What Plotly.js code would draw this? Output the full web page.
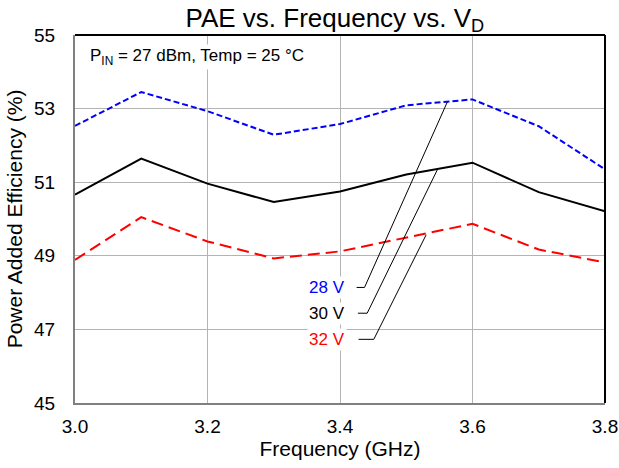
<!DOCTYPE html>
<html><head><meta charset="utf-8">
<script src="https://cdn.plot.ly/plotly-3.0.1.min.js"></script>
<style>html,body{margin:0;padding:0;background:#fff;}#chart{width:619px;height:468px;}</style>
</head><body><div id="chart"></div>
<script>
const freq = [3.0, 3.1, 3.2, 3.3, 3.4, 3.5, 3.6, 3.7, 3.8];
const pae28 = [52.53, 53.45, 52.93, 52.29, 52.58, 53.09, 53.25, 52.52, 51.35];
const pae30 = [50.66, 51.64, 50.96, 50.46, 50.75, 51.21, 51.53, 50.73, 50.21];
const pae32 = [48.89, 50.05, 49.39, 48.93, 49.12, 49.50, 49.87, 49.17, 48.82];
const seriesNames = ['28 V', '30 V', '32 V'];
const seriesColors = ['#0000ff', '#000000', '#ff0000'];
// leader lines: label end -> curve
const lead28x = [3.425, 3.437, 3.562], lead28y = [48.14, 48.14, 53.18];
const lead30x = [3.427, 3.441, 3.547], lead30y = [47.44, 47.44, 51.34];
const lead32x = [3.428, 3.451, 3.530], lead32y = [46.73, 46.73, 49.57];
const labelX = 3.41;
const labelY = [48.14, 47.44, 46.73];
const yTicks = [45, 47, 49, 51, 53, 55];
const xTicks = [3.0, 3.2, 3.4, 3.6, 3.8];
const xTickText = ['3.0', '3.2', '3.4', '3.6', '3.8'];

const FONT = 'Arial, "Liberation Sans", sans-serif';
const traces = [
  {x: freq, y: pae28, mode: 'lines', name: seriesNames[0], line: {color: seriesColors[0], width: 2, dash: '6px,3px'}},
  {x: freq, y: pae30, mode: 'lines', name: seriesNames[1], line: {color: seriesColors[1], width: 2}},
  {x: freq, y: pae32, mode: 'lines', name: seriesNames[2], line: {color: seriesColors[2], width: 2, dash: '12px,6px'}},
  {x: lead28x, y: lead28y, mode: 'lines', line: {color: '#000', width: 1}, hoverinfo: 'skip'},
  {x: lead30x, y: lead30y, mode: 'lines', line: {color: '#000', width: 1}, hoverinfo: 'skip'},
  {x: lead32x, y: lead32y, mode: 'lines', line: {color: '#000', width: 1}, hoverinfo: 'skip'}
];
const annotations = seriesNames.map((n, i) => ({
  x: labelX, y: labelY[i], xref: 'x', yref: 'y', text: n, showarrow: false,
  xanchor: 'right', yanchor: 'middle', font: {family: FONT, size: 17, color: seriesColors[i]}, bgcolor: '#fff'
}));
annotations.push({
  x: 0.024, y: 0.94, xref: 'paper', yref: 'paper', xanchor: 'left', yanchor: 'middle', showarrow: false,
  text: 'P<sub>IN</sub> = 27 dBm, Temp = 25 °C', font: {family: FONT, size: 17, color: '#000'}, bgcolor: '#fff'
});
const layout = {
  width: 619, height: 468,
  margin: {l: 75, r: 14, t: 35, b: 65},
  paper_bgcolor: '#fff', plot_bgcolor: '#fff',
  showlegend: false,
  font: {family: FONT, color: '#000'},
  title: {text: 'PAE vs. Frequency vs. V<sub>D</sub>', font: {family: FONT, size: 26, color: '#000'},
          xref: 'container', x: 0.541, xanchor: 'center', yref: 'container', y: 0.962, yanchor: 'middle'},
  xaxis: {
    range: [3.0, 3.8], tickvals: xTicks, ticktext: xTickText, ticks: '', showgrid: true, gridcolor: '#b3b3b3', gridwidth: 1,
    zeroline: false, showline: true, linecolor: '#808080', linewidth: 2, ticklabelstandoff: 5,
    tickfont: {family: FONT, size: 19, color: '#000'},
    title: {text: 'Frequency (GHz)', font: {family: FONT, size: 21, color: '#000'}, standoff: 6}
  },
  yaxis: {
    range: [45, 55], tickvals: yTicks, ticks: '', showgrid: true, gridcolor: '#b3b3b3', gridwidth: 1,
    zeroline: false, showline: true, linecolor: '#808080', linewidth: 2, ticklabelstandoff: 14,
    tickfont: {family: FONT, size: 19, color: '#000'},
    title: {text: 'Power Added Efficiency (%)', font: {family: FONT, size: 21, color: '#000'}, standoff: 6}
  },
  shapes: [
    {type: 'line', xref: 'paper', yref: 'paper', x0: 0, x1: 1, y0: 1, y1: 1, line: {color: '#000', width: 2}},
    {type: 'line', xref: 'paper', yref: 'paper', x0: 1, x1: 1, y0: 0, y1: 1, line: {color: '#000', width: 2}}
  ],
  annotations: annotations
};
Plotly.newPlot('chart', traces, layout, {displayModeBar: false, staticPlot: true});
</script>
</body></html>
